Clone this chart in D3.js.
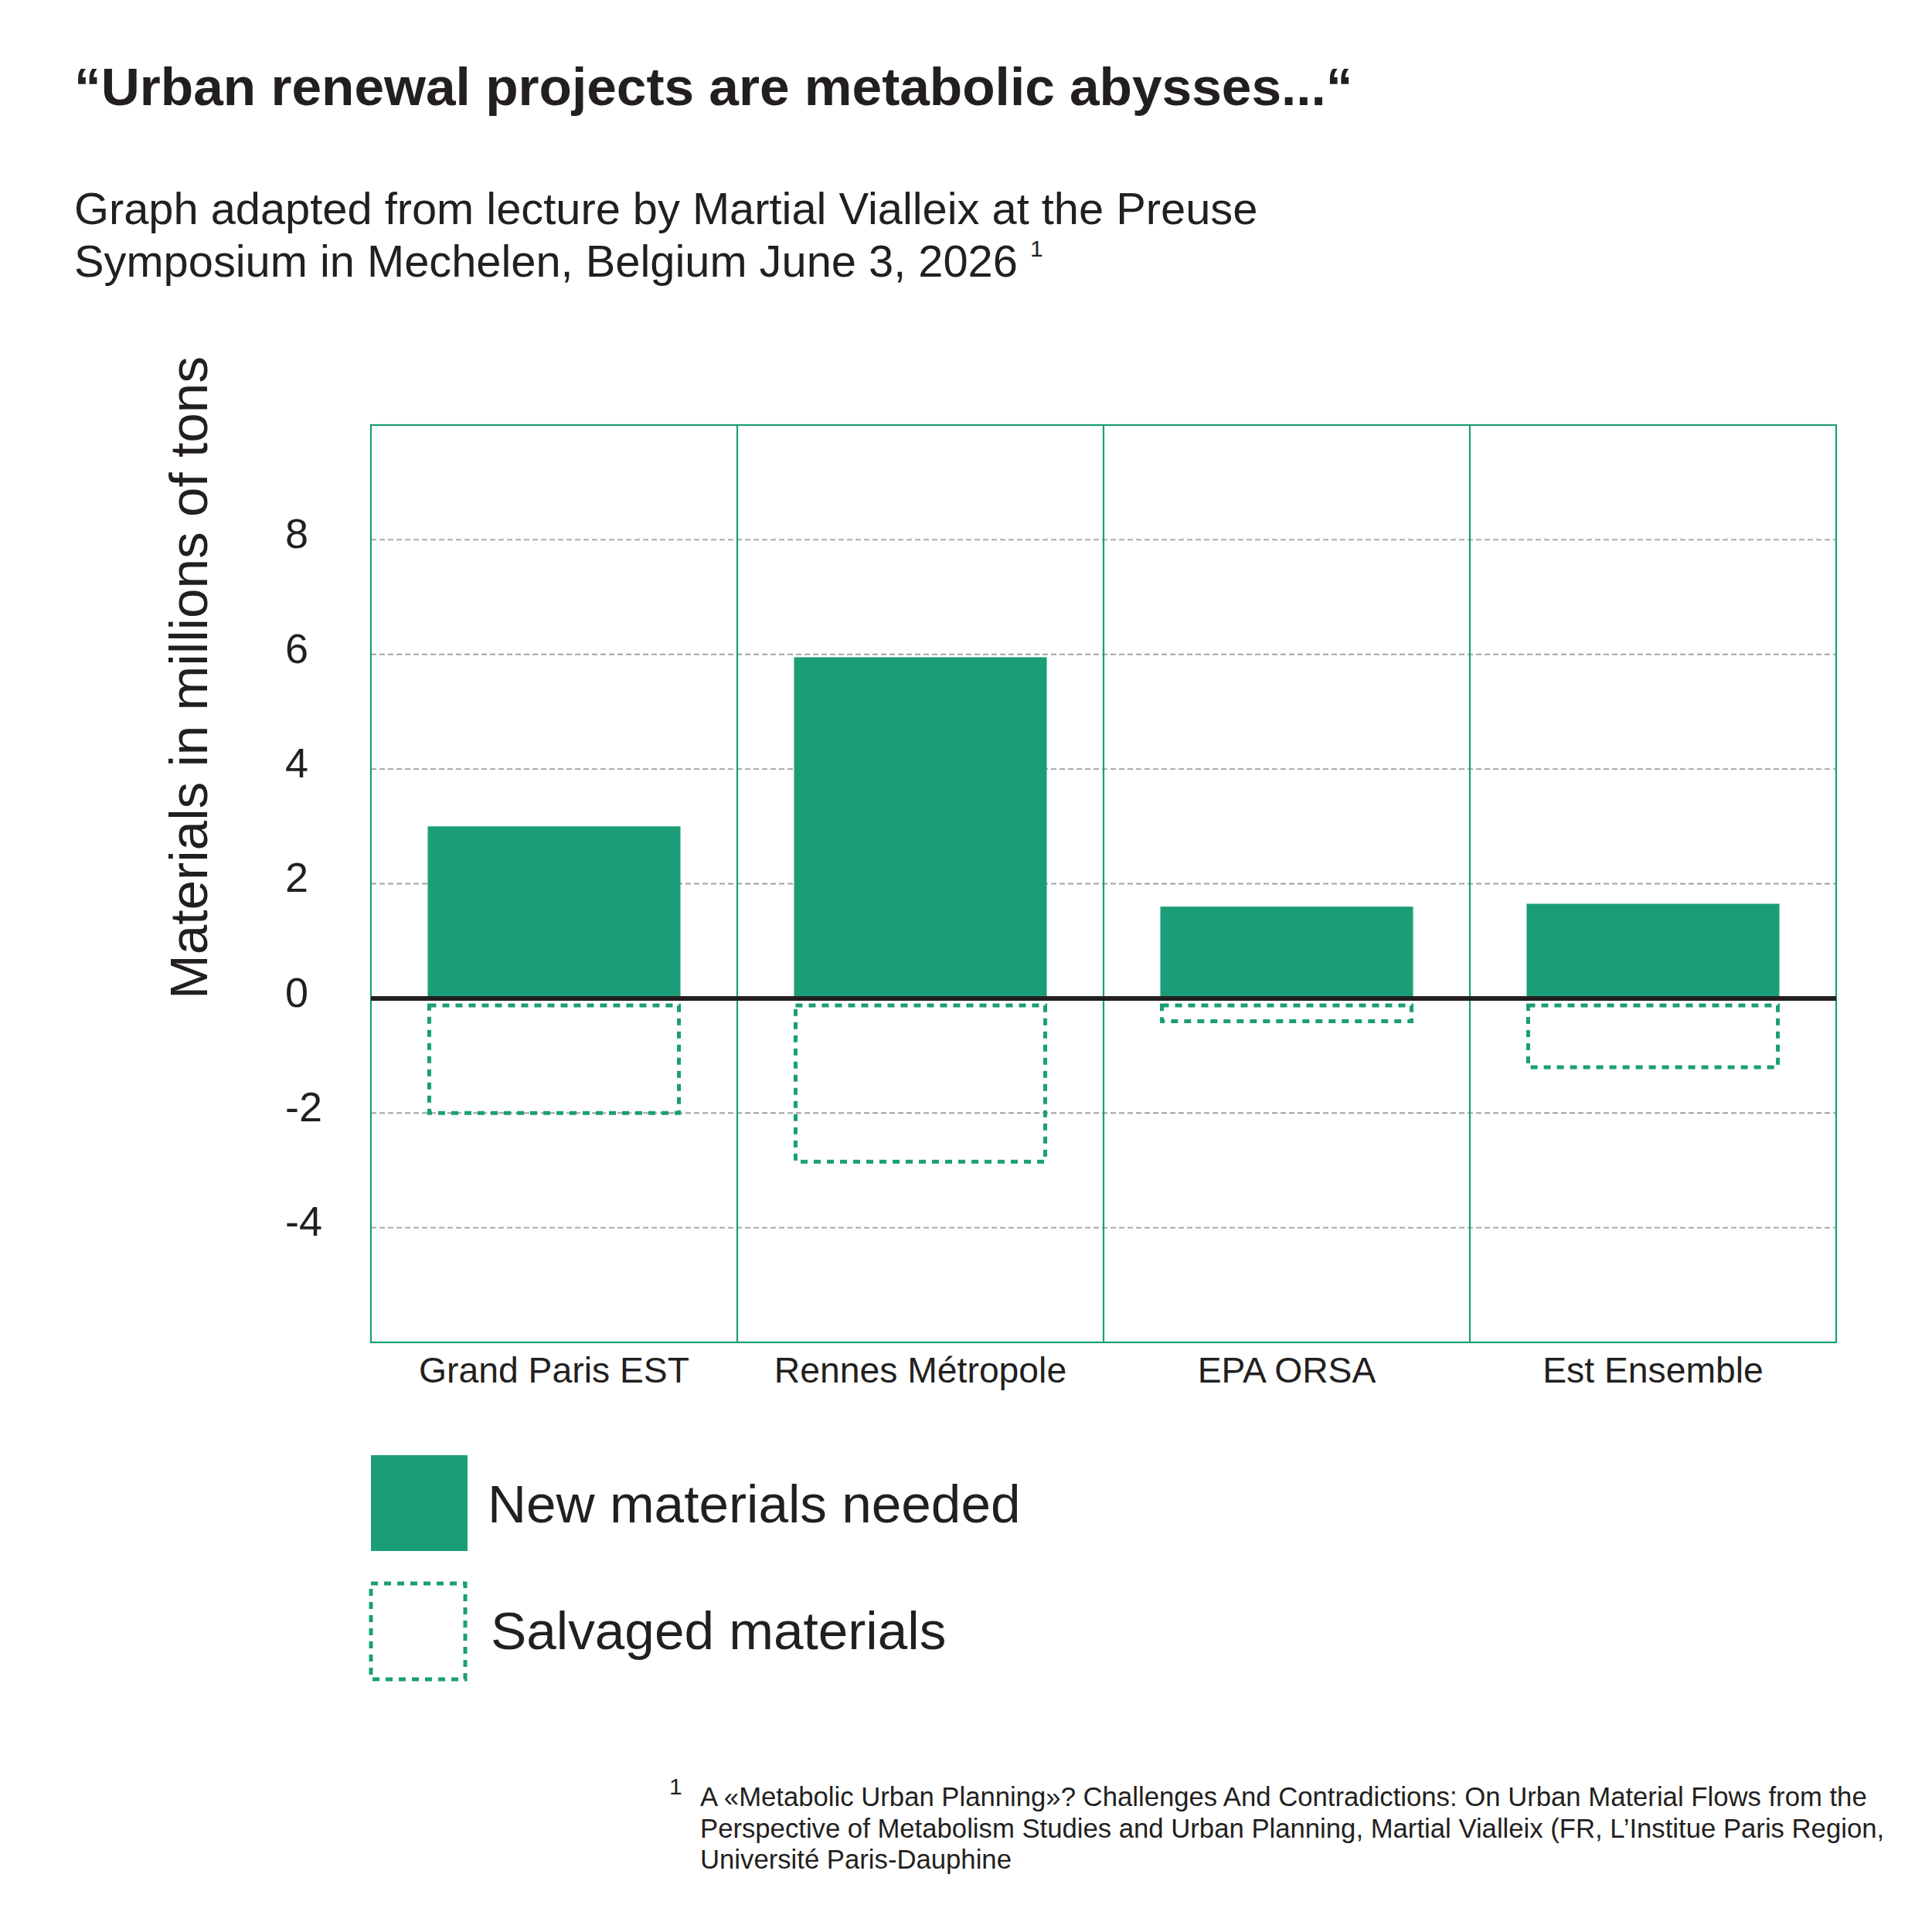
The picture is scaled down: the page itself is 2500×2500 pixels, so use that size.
<!DOCTYPE html>
<html>
<head>
<meta charset="utf-8">
<title>Urban renewal projects are metabolic abysses</title>
<script src="https://d3js.org/d3.v7.min.js"></script>
<style>
  body { margin: 0; background: #fff; }
  text { font-family: "Liberation Sans", Arial, Helvetica, sans-serif; fill: #231f20; }
</style>
</head>
<body>
<svg width="2500" height="2500"></svg>
<script>
// data (millions of tons)
var categories = ["Grand Paris EST", "Rennes Métropole", "EPA ORSA", "Est Ensemble"];
var newMaterials = [3.0, 5.95, 1.6, 1.65];
var salvaged = [-2.0, -2.85, -0.4, -1.2];
var yTicks = [-4, -2, 0, 2, 4, 6, 8];
var gridTicks = [-4, -2, 2, 4, 6, 8];
var legendLabels = ["New materials needed", "Salvaged materials"];
var footnoteLines = [
  "A «Metabolic Urban Planning»? Challenges And Contradictions: On Urban Material Flows from the",
  "Perspective of Metabolism Studies and Urban Planning, Martial Vialleix (FR, L’Institue Paris Region,",
  "Université Paris-Dauphine"
];

var green = "#1b9e77";
var svg = d3.select("svg");

var plot = { left: 480, right: 2376, top: 550, bottom: 1737 };

var x = d3.scaleBand().domain(categories).range([plot.left, plot.right]).padding(0);
var y = d3.scaleLinear().domain([-6, 10]).range([plot.bottom, plot.top]);
var barW = x.bandwidth() * 0.69;

// title + subtitle
svg.append("text").attr("x", 96).attr("y", 136)
  .attr("font-size", 69.4).attr("font-weight", "bold")
  .text("“Urban renewal projects are metabolic abysses...“");

svg.append("text").attr("x", 96).attr("y", 290).attr("font-size", 57.8)
  .text("Graph adapted from lecture by Martial Vialleix at the Preuse");
var sub2 = svg.append("text").attr("x", 96).attr("y", 358).attr("font-size", 57.8)
  .text("Symposium in Mechelen, Belgium June 3, 2026 ");
sub2.append("tspan").attr("font-size", 30).attr("dy", -26).text("1");

// y axis title
svg.append("text")
  .attr("transform", "translate(268,877) rotate(-90)")
  .attr("text-anchor", "middle").attr("font-size", 69.3)
  .text("Materials in millions of tons");

// grid
svg.append("g").selectAll("line").data(gridTicks).join("line")
  .attr("x1", plot.left).attr("x2", plot.right)
  .attr("y1", d => y(d)).attr("y2", d => y(d))
  .attr("stroke", "#a0a0a0").attr("stroke-width", 1.8)
  .attr("stroke-dasharray", "7,4");

// panel dividers + frame
svg.append("g").selectAll("line").data(categories.slice(1)).join("line")
  .attr("x1", d => x(d)).attr("x2", d => x(d))
  .attr("y1", plot.top).attr("y2", plot.bottom)
  .attr("stroke", green).attr("stroke-width", 2.2);
svg.append("rect")
  .attr("x", plot.left).attr("y", plot.top)
  .attr("width", plot.right - plot.left).attr("height", plot.bottom - plot.top)
  .attr("fill", "none").attr("stroke", green).attr("stroke-width", 2.2);

// y tick labels (plain hyphen for negatives, like the original)
var yAxis = svg.append("g").attr("transform", "translate(369,0)")
  .call(d3.axisLeft(y).tickValues(yTicks).tickSize(0).tickPadding(0)
    .tickFormat(d => String(d)));
yAxis.select(".domain").remove();
yAxis.selectAll("text")
  .attr("text-anchor", "start").attr("x", 0).attr("dy", "0.19em")
  .attr("font-size", 54).attr("font-family", null).attr("fill", "#231f20");

// x labels
var xAxis = svg.append("g").attr("transform", "translate(0," + plot.bottom + ")")
  .call(d3.axisBottom(x).tickSize(0).tickPadding(0));
xAxis.select(".domain").remove();
xAxis.selectAll("text")
  .attr("y", 52).attr("dy", 0)
  .attr("font-size", 46.3).attr("font-family", null).attr("fill", "#231f20");

// new materials bars
svg.append("g").selectAll("rect").data(newMaterials).join("rect")
  .attr("x", (d, i) => x(categories[i]) + x.bandwidth() / 2 - barW / 2)
  .attr("width", barW)
  .attr("y", d => y(d)).attr("height", d => y(0) - y(d))
  .attr("fill", green);

// salvaged materials (dotted outline), drawn just below the zero line
svg.append("g").selectAll("rect").data(salvaged).join("rect")
  .attr("x", (d, i) => x(categories[i]) + x.bandwidth() / 2 - barW / 2 + 2)
  .attr("width", barW - 4)
  .attr("y", y(0) + 9).attr("height", d => y(d) - y(0) - 9)
  .attr("fill", "none").attr("stroke", green)
  .attr("stroke-width", 5).attr("stroke-dasharray", "9,8");

// zero line
svg.append("line")
  .attr("x1", plot.left).attr("x2", plot.right)
  .attr("y1", y(0)).attr("y2", y(0))
  .attr("stroke", "#231f20").attr("stroke-width", 6);

// legend
var legend = svg.append("g").attr("transform", "translate(480,1883)");
legend.append("rect").attr("width", 125).attr("height", 124).attr("fill", green);
legend.append("rect").attr("x", 0).attr("y", 166).attr("width", 122).attr("height", 124)
  .attr("fill", "none").attr("stroke", green)
  .attr("stroke-width", 5).attr("stroke-dasharray", "9,8");
legend.selectAll("text").data(legendLabels).join("text")
  .attr("x", (d, i) => i === 0 ? 151 : 155)
  .attr("y", (d, i) => 87 + i * 164)
  .attr("font-size", 69.3)
  .text(d => d);

// footnote
var foot = svg.append("g");
foot.append("text").attr("x", 866).attr("y", 2322).attr("font-size", 30).text("1");
foot.selectAll("text.line").data(footnoteLines).join("text")
  .attr("class", "line")
  .attr("x", 906).attr("y", (d, i) => 2337 + i * 40.5)
  .attr("font-size", 34.7)
  .text(d => d);
</script>
</body>
</html>
